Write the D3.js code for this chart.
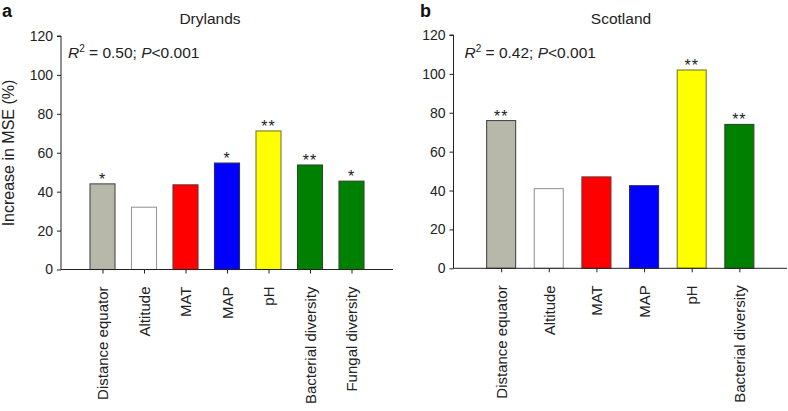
<!DOCTYPE html>
<html><head><meta charset="utf-8">
<script src="https://cdn.jsdelivr.net/npm/d3@7"></script>
<style>body{margin:0;background:#fff}svg{display:block;font-family:Arial,"Liberation Sans",Helvetica,sans-serif}</style>
</head><body>
<svg id="c" width="788" height="411"></svg>
<script>
const categoriesA = ["Distance equator","Altitude","MAT","MAP","pH","Bacterial diversity","Fungal diversity"];
const valuesA = [44, 32, 43.5, 54.7, 71.2, 53.7, 45.4];
const signifA = ["*","","","*","**","**","*"];
const categoriesB = ["Distance equator","Altitude","MAT","MAP","pH","Bacterial diversity"];
const valuesB = [76, 41, 47, 42.5, 102, 74];
const signifB = ["**","","","","**","**"];
const fillsA = ["#b8b8aa","#ffffff","#ff0000","#0000ff","#ffff00","#008000","#008000"];
const strokesA = ["#4a4a44","#999999","#7a2a2a","#2a2a70","#7a7a2a","#2a4a2a","#2a4a2a"];
const fillsB = fillsA.slice(0,6), strokesB = strokesA.slice(0,6);
const yTicks = [0,20,40,60,80,100,120];

const svg = d3.select("#c");

function panel(o){
  const g = svg.append("g");
  const y = d3.scaleLinear().domain([0,120]).range([o.y0, o.y120]);
  const x = d3.scalePoint().domain(o.cats).range([o.x0, o.x1]).padding(1);
  g.selectAll("rect.bar").data(o.vals).enter().append("rect")
    .attr("x", (d,i)=>x(o.cats[i]) - o.bw/2)
    .attr("width", o.bw)
    .attr("y", d=>y(d))
    .attr("height", d=>y(0)-y(d))
    .attr("fill",(d,i)=>o.fills[i])
    .attr("stroke",(d,i)=>o.strokes[i])
    .attr("stroke-width",1.1);
  g.selectAll("text.sig").data(o.vals).enter().append("text")
    .attr("x",(d,i)=>x(o.cats[i]))
    .attr("y", d=>y(d)+1)
    .attr("text-anchor","middle")
    .attr("font-size",16)
    .attr("letter-spacing",1)
    .attr("fill","#222")
    .text((d,i)=>o.sig[i]);
  const ya = g.append("g").attr("transform",`translate(${o.x0},0)`)
    .call(d3.axisLeft(y).tickValues(yTicks).tickSize(4).tickPadding(4));
  ya.select(".domain").attr("stroke","#222").attr("d",`M-4,${y(120)}H0V${y(0)}`);
  ya.selectAll(".tick line").attr("stroke","#222");
  ya.selectAll("text").attr("font-size",14).attr("font-family","Arial, 'Liberation Sans', sans-serif").attr("fill","#222");
  const xa = g.append("g").attr("transform",`translate(0,${o.y0})`)
    .call(d3.axisBottom(x).tickSize(4).tickPadding(0));
  xa.select(".domain").attr("stroke","#222").attr("d",`M${o.x0},0H${o.x1}`);
  xa.selectAll(".tick line").attr("stroke","#222");
  xa.selectAll("text")
    .attr("font-size",15).attr("font-family","Arial, 'Liberation Sans', sans-serif").attr("fill","#222")
    .attr("text-anchor","end")
    .attr("transform","rotate(-90)")
    .attr("x",-17).attr("y",0).attr("dy","0.35em");
  g.append("text").attr("x",o.tx).attr("y",24).attr("text-anchor","middle")
    .attr("font-size",15.5).attr("fill","#222").text(o.title);
  g.append("text").attr("x",o.lx).attr("y",17).attr("font-size",18).attr("font-weight","bold").attr("fill","#111").text(o.letter);
  const t = g.append("text").attr("x",o.x0+o.ax).attr("y",58).attr("font-size",15.5).attr("fill","#222");
  t.append("tspan").attr("font-style","italic").text("R");
  t.append("tspan").attr("font-size",10).attr("dy",-6).text("2");
  t.append("tspan").attr("dy",6).text(" = " + o.r2 + "; ");
  t.append("tspan").attr("font-style","italic").text("P");
  t.append("tspan").text("<0.001");
}

panel({cats:categoriesA, vals:valuesA, sig:signifA, fills:fillsA, strokes:strokesA,
  x0:61, x1:393, y0:269.5, y120:36, bw:25, title:"Drylands", tx:210, letter:"a", lx:2, r2:"0.50", ax:7});
panel({cats:categoriesB, vals:valuesB, sig:signifB, fills:fillsB, strokes:strokesB,
  x0:453.5, x1:787, y0:268.3, y120:35, bw:29, title:"Scotland", tx:621, letter:"b", lx:420, r2:"0.42", ax:11});

svg.append("text").attr("transform","translate(14,153) rotate(-90)")
  .attr("text-anchor","middle").attr("font-size",16).attr("fill","#222").text("Increase in MSE (%)");
</script>
</body></html>
